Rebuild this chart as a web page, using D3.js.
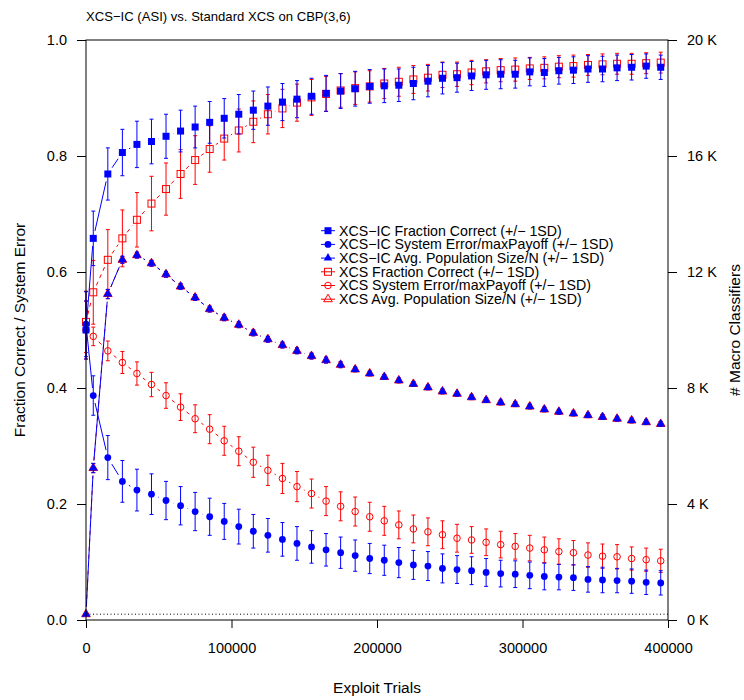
<!DOCTYPE html>
<html>
<head>
<meta charset="utf-8">
<script src="https://cdn.jsdelivr.net/npm/d3@7"></script>
<style>
  body { margin: 0; background: #fff; }
  text { font-family: "Liberation Sans", Arial, sans-serif; fill: #000; }
</style>
</head>
<body>
<svg width="744" height="700"></svg>
<script>
// exploit trials at which the runs were sampled
const trials = [0, 5000, 15000, 25000, 35000, 45000, 55000, 65000, 75000, 85000,
  95000, 105000, 115000, 125000, 135000, 145000, 155000, 165000, 175000, 185000,
  195000, 205000, 215000, 225000, 235000, 245000, 255000, 265000, 275000, 285000,
  295000, 305000, 315000, 325000, 335000, 345000, 355000, 365000, 375000, 385000, 395000];

// XCS-IC
const icFC = [0.50, 0.658, 0.769, 0.806, 0.820, 0.825, 0.834, 0.843, 0.850, 0.858,
  0.865, 0.872, 0.879, 0.886, 0.893, 0.898, 0.903, 0.908, 0.912, 0.916,
  0.920, 0.921, 0.922, 0.925, 0.929, 0.934, 0.935, 0.938, 0.940, 0.941,
  0.941, 0.945, 0.944, 0.947, 0.948, 0.950, 0.950, 0.952, 0.953, 0.955, 0.953];
const icFCsd = [0.05, 0.047, 0.045, 0.040, 0.040, 0.0385, 0.038, 0.036, 0.036, 0.036,
  0.034, 0.034, 0.033, 0.033, 0.032, 0.032, 0.031, 0.031, 0.030, 0.030,
  0.029, 0.029, 0.028, 0.028, 0.027, 0.027, 0.025, 0.025, 0.025, 0.025,
  0.024, 0.024, 0.024, 0.023, 0.023, 0.023, 0.022, 0.022, 0.022, 0.021, 0.021];
const icSE = [0.510, 0.387, 0.280, 0.239, 0.224, 0.217, 0.206, 0.197, 0.187, 0.178,
  0.170, 0.161, 0.153, 0.146, 0.139, 0.132, 0.126, 0.121, 0.116, 0.111,
  0.106, 0.103, 0.099, 0.095, 0.093, 0.089, 0.087, 0.085, 0.082, 0.080,
  0.079, 0.077, 0.075, 0.074, 0.073, 0.070, 0.069, 0.068, 0.067, 0.065, 0.064];
const icSEsd = [0.056, 0.034, 0.038, 0.036, 0.036, 0.035, 0.033, 0.033, 0.033, 0.032,
  0.031, 0.030, 0.029, 0.029, 0.029, 0.029, 0.028, 0.028, 0.027, 0.027,
  0.026, 0.026, 0.026, 0.025, 0.025, 0.025, 0.024, 0.024, 0.024, 0.023,
  0.023, 0.023, 0.023, 0.022, 0.022, 0.022, 0.022, 0.021, 0.021, 0.021, 0.021];
const icPop = [0.010, 0.262, 0.562, 0.621, 0.629, 0.615, 0.596, 0.575, 0.556, 0.536,
  0.521, 0.509, 0.495, 0.484, 0.474, 0.464, 0.455, 0.448, 0.440, 0.432,
  0.425, 0.419, 0.413, 0.407, 0.401, 0.394, 0.390, 0.384, 0.379, 0.375,
  0.372, 0.368, 0.363, 0.359, 0.356, 0.353, 0.350, 0.347, 0.344, 0.341, 0.338];
const icPopsd = [0, 0.008, 0.008, 0.006, 0.005, 0.005, 0.005, 0.005, 0.005, 0.005,
  0.005, 0.005, 0.005, 0.005, 0.005, 0.005, 0.005, 0.005, 0.005, 0.004,
  0.004, 0.004, 0.004, 0.004, 0.004, 0.004, 0.004, 0.004, 0.004, 0.004,
  0.004, 0.004, 0.004, 0.004, 0.004, 0.004, 0.004, 0.004, 0.004, 0.004, 0.004];

// standard XCS
const xcsFC = [0.514, 0.565, 0.621, 0.658, 0.690, 0.718, 0.743, 0.769, 0.793, 0.812,
  0.830, 0.844, 0.859, 0.872, 0.882, 0.892, 0.901, 0.907, 0.913, 0.917,
  0.920, 0.925, 0.928, 0.932, 0.935, 0.940, 0.941, 0.944, 0.946, 0.948,
  0.949, 0.951, 0.952, 0.954, 0.955, 0.957, 0.958, 0.959, 0.959, 0.960, 0.961];
const xcsFCsd = [0.053, 0.055, 0.052, 0.049, 0.047, 0.047, 0.045, 0.042, 0.042, 0.040,
  0.037, 0.037, 0.036, 0.034, 0.033, 0.032, 0.031, 0.030, 0.029, 0.028,
  0.027, 0.026, 0.025, 0.024, 0.023, 0.022, 0.021, 0.021, 0.020, 0.020,
  0.020, 0.019, 0.019, 0.019, 0.019, 0.018, 0.018, 0.018, 0.018, 0.018, 0.018];
const xcsSE = [0.500, 0.489, 0.464, 0.444, 0.425, 0.406, 0.387, 0.367, 0.347, 0.329,
  0.309, 0.291, 0.272, 0.258, 0.244, 0.230, 0.218, 0.205, 0.196, 0.187,
  0.178, 0.171, 0.164, 0.157, 0.152, 0.147, 0.141, 0.138, 0.134, 0.130,
  0.127, 0.124, 0.121, 0.118, 0.116, 0.112, 0.110, 0.109, 0.106, 0.104, 0.102];
const xcsSEsd = [0.05, 0.016, 0.017, 0.019, 0.020, 0.021, 0.022, 0.023, 0.024, 0.025,
  0.025, 0.025, 0.026, 0.026, 0.026, 0.026, 0.025, 0.025, 0.025, 0.025,
  0.025, 0.025, 0.024, 0.024, 0.024, 0.024, 0.024, 0.023, 0.023, 0.023,
  0.022, 0.022, 0.022, 0.022, 0.021, 0.021, 0.021, 0.021, 0.020, 0.020, 0.020];
const xcsPop = icPop.slice();
const xcsPopsd = icPopsd.slice();

const dottedLevel = 0.01;

const xTicks = [0, 100000, 200000, 300000, 400000];
const yTicks = [0, 0.2, 0.4, 0.6, 0.8, 1.0];
const y2Ticks = [0, 4000, 8000, 12000, 16000, 20000];

const legendLabels = [
  "XCS\u2212IC Fraction Correct (+/\u2212 1SD)",
  "XCS\u2212IC System Error/maxPayoff (+/\u2212 1SD)",
  "XCS\u2212IC Avg. Population Size/N (+/\u2212 1SD)",
  "XCS Fraction Correct (+/\u2212 1SD)",
  "XCS System Error/maxPayoff (+/\u2212 1SD)",
  "XCS Avg. Population Size/N (+/\u2212 1SD)"
];

const BLUE = "#0000ff", RED = "#ff0000";
const svg = d3.select("svg");
const L = 86, R = 668, T = 40, B = 620;

const x = d3.scaleLinear().domain([0, 400000]).range([L, R]);
const y = d3.scaleLinear().domain([0, 1]).range([B, T]);
const y2 = d3.scaleLinear().domain([0, 20000]).range([B, T]);

// series: legend order = blue first; drawing order = red first
const series = [
  { v: icFC,  sd: icFCsd,  color: BLUE, shape: "square",   filled: true,  dash: null },
  { v: icSE,  sd: icSEsd,  color: BLUE, shape: "circle",   filled: true,  dash: null },
  { v: icPop, sd: icPopsd, color: BLUE, shape: "triangle", filled: true,  dash: null },
  { v: xcsFC,  sd: xcsFCsd,  color: RED, shape: "square",   filled: false, dash: "4,4" },
  { v: xcsSE,  sd: xcsSEsd,  color: RED, shape: "circle",   filled: false, dash: "4,4" },
  { v: xcsPop, sd: xcsPopsd, color: RED, shape: "triangle", filled: false, dash: "4,4" }
];

function marker(g, shape, filled, color, cx, cy) {
  const fill = filled ? color : "none", stroke = filled ? "none" : color;
  if (shape === "square") {
    const s = 7;
    g.append("rect").attr("x", cx - s / 2).attr("y", cy - s / 2)
      .attr("width", s).attr("height", s)
      .attr("fill", fill).attr("stroke", stroke).attr("stroke-width", 1);
  } else if (shape === "circle") {
    g.append("circle").attr("cx", cx).attr("cy", cy).attr("r", filled ? 3.4 : 3.3)
      .attr("fill", fill).attr("stroke", stroke).attr("stroke-width", 1);
  } else {
    const r = 5.0, h = r * Math.sqrt(3) / 2;
    g.append("path")
      .attr("d", `M${cx},${cy - r}L${cx + h},${cy + r / 2}L${cx - h},${cy + r / 2}Z`)
      .attr("fill", fill).attr("stroke", stroke).attr("stroke-width", 1);
  }
}

// type="b" style: segments between points with a gap around each marker
function gappedLines(g, s) {
  const gap = 7.6;
  for (let i = 0; i < trials.length - 1; i++) {
    const x0 = x(trials[i]), y0 = y(s.v[i]), x1 = x(trials[i + 1]), y1 = y(s.v[i + 1]);
    const d = Math.hypot(x1 - x0, y1 - y0);
    if (d <= 2 * gap) continue;
    const ux = (x1 - x0) / d, uy = (y1 - y0) / d;
    g.append("line")
      .attr("x1", x0 + ux * gap).attr("y1", y0 + uy * gap)
      .attr("x2", x1 - ux * gap).attr("y2", y1 - uy * gap)
      .attr("stroke", s.color).attr("stroke-width", 1)
      .attr("stroke-dasharray", s.dash);
  }
}

function errorBars(g, s) {
  trials.forEach((t, i) => {
    if (!s.sd[i]) return;
    const cx = x(t), top = y(s.v[i] + s.sd[i]), bot = y(s.v[i] - s.sd[i]);
    g.append("line").attr("x1", cx).attr("x2", cx).attr("y1", top).attr("y2", bot)
      .attr("stroke", s.color).attr("stroke-width", 1);
    [top, bot].forEach(yy => g.append("line")
      .attr("x1", cx - 2).attr("x2", cx + 2).attr("y1", yy).attr("y2", yy)
      .attr("stroke", s.color).attr("stroke-width", 1));
  });
}

const plot = svg.append("g");

// dotted reference line
plot.append("line").attr("x1", L).attr("x2", R)
  .attr("y1", y(dottedLevel)).attr("y2", y(dottedLevel))
  .attr("stroke", "#000").attr("stroke-width", 1).attr("stroke-dasharray", "1,2.5");

[3, 4, 5, 0, 1, 2].forEach(k => {
  const s = series[k];
  const g = plot.append("g");
  gappedLines(g, s);
  errorBars(g, s);
  trials.forEach((t, i) => marker(g, s.shape, s.filled, s.color, x(t), y(s.v[i])));
});

// box
svg.append("rect").attr("x", L).attr("y", T).attr("width", R - L).attr("height", B - T)
  .attr("fill", "none").attr("stroke", "#000").attr("stroke-width", 1);

// axes
const fs = "14.5px";
const ax = svg.append("g").attr("transform", `translate(0,${B})`)
  .call(d3.axisBottom(x).tickValues(xTicks).tickFormat(d3.format("d")).tickSize(8).tickPadding(15));
const ayl = svg.append("g").attr("transform", `translate(${L},0)`)
  .call(d3.axisLeft(y).tickValues(yTicks).tickFormat(d3.format(".1f")).tickSize(9).tickPadding(10));
const ayr = svg.append("g").attr("transform", `translate(${R},0)`)
  .call(d3.axisRight(y2).tickValues(y2Ticks).tickFormat(d => (d / 1000) + " K").tickSize(9).tickPadding(10));
[ax, ayl, ayr].forEach(a => {
  a.select(".domain").remove();
  a.selectAll("text").attr("font-size", fs).attr("font-family", null).style("fill", "#000");
  a.selectAll("line").attr("stroke", "#000");
});

// titles
svg.append("text").attr("x", L).attr("y", 21).attr("font-size", "13.1px")
  .text("XCS\u2212IC (ASI) vs. Standard XCS on CBP(3,6)");
svg.append("text").attr("x", (L + R) / 2).attr("y", 693).attr("text-anchor", "middle")
  .attr("font-size", "15.5px").text("Exploit Trials");
svg.append("text").attr("transform", `translate(25,${(T + B) / 2}) rotate(-90)`)
  .attr("text-anchor", "middle").attr("font-size", "15.5px").text("Fraction Correct / System Error");
svg.append("text").attr("transform", `translate(740,${(T + B) / 2}) rotate(-90)`)
  .attr("text-anchor", "middle").attr("font-size", "15.5px").text("# Macro Classifiers");

// legend
const lg = svg.append("g");
legendLabels.forEach((lab, i) => {
  const s = series[i];
  const cy = 230.7 + i * 13.7;
  lg.append("line").attr("x1", 321).attr("x2", 335).attr("y1", cy).attr("y2", cy)
    .attr("stroke", s.color).attr("stroke-width", 1);
  marker(lg, s.shape, s.filled, s.color, 328, cy);
  lg.append("text").attr("x", 339).attr("y", cy).attr("dy", "0.35em")
    .attr("font-size", "14.2px").text(lab);
});
</script>
</body>
</html>
